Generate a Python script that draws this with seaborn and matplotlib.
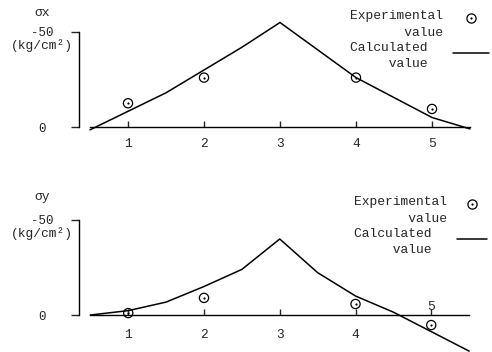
import matplotlib
matplotlib.use("Agg")
import matplotlib.pyplot as plt
from matplotlib.lines import Line2D
from matplotlib.legend_handler import HandlerTuple, HandlerLine2D
import seaborn as sns
import pandas as pd

# ---------------- data ----------------
# stresses in kg/cm^2 (compression negative, drawn upward)
calc_x_pos = [0.5, 1.5, 2.5, 3, 4, 5, 5.5]
sigma_x_calc = [1.5, -18, -42, -55, -26, -5, 1]
exp_x_pos = [1, 2, 4, 5]
sigma_x_exp = [-12.5, -26, -26, -9.5]

calc_y_pos = [0.5, 1, 1.5, 2, 2.5, 3, 3.5, 4, 4.5, 5.5]
sigma_y_calc = [0, -2.3, -6.8, -15, -24, -40, -22.3, -10, -1.5, 19]
exp_y_pos = [1, 2, 4, 5]
sigma_y_exp = [-1, -9, -5.8, 5.3]

x_ticks = [1, 2, 3, 4, 5]
x_tick_labels = ["1", "2", "3", "4", "5"]
y_ticks = [0, -50]
y_tick_labels = ["0", "-50"]
unit_label = "(kg/cm²)"
panel_labels = ["σx", "σy"]
legend_labels = ["Experimental\n       value", "Calculated  \n     value  "]

# ---------------- style ----------------
sns.set_style("white")
plt.rcParams["font.family"] = ["Liberation Mono", "DejaVu Sans Mono", "DejaVu Sans"]
plt.rcParams["font.size"] = 9.4

W, H = 492, 352
fig = plt.figure(figsize=(W / 100, H / 100), dpi=100)


def raised(base_cls, dy_pt, **kw):
    """Legend handler that lifts its key by dy_pt points."""
    class _Raised(base_cls):
        def create_artists(self, legend, orig_handle, xdescent, ydescent,
                           width, height, fontsize, trans):
            return super().create_artists(legend, orig_handle, xdescent,
                                          ydescent - 2 * dy_pt, width, height,
                                          fontsize, trans)
    return _Raised(**kw)


# pixel layout helpers (positions only)
def axes_rect(top_px, bottom_px):
    return [0, 1 - bottom_px / H, 1, (bottom_px - top_px) / H]

panels = [
    dict(rect=axes_rect(0, 160), zero_px=127, x0=52, dx=76,
         cx=calc_x_pos, cy=sigma_x_calc, ex=exp_x_pos, ey=sigma_x_exp,
         top=0, bottom=160, label=panel_labels[0], lab_y=13,
         leg_right=489, leg_top=10, hl=36, xpad=8.2, mk_up=4.3, ln_up=2.2),
    dict(rect=axes_rect(170, 352), zero_px=315, x0=52.5, dx=75.75,
         cx=calc_y_pos, cy=sigma_y_calc, ex=exp_y_pos, ey=sigma_y_exp,
         top=170, bottom=352, label=panel_labels[1], lab_y=197,
         leg_right=487, leg_top=196, hl=30, xpad=9.8, mk_up=4.3, ln_up=2.2),
]

scale = 1.9  # px per kg/cm^2
lw = 1.0

for i, p in enumerate(panels):
    ax = fig.add_axes(p["rect"])
    ax.set_facecolor("none")
    df_c = pd.DataFrame({"pos": p["cx"], "val": p["cy"]})
    df_e = pd.DataFrame({"pos": p["ex"], "val": p["ey"]})
    sns.lineplot(data=df_c, x="pos", y="val", ax=ax, color="black",
                 linewidth=1.1, sort=False, estimator=None)
    # experimental: circle with a centre dot
    sns.scatterplot(data=df_e, x="pos", y="val", ax=ax, marker="o", s=44,
                    facecolors="none", edgecolor="black", linewidth=0.9)
    sns.scatterplot(data=df_e, x="pos", y="val", ax=ax, marker="o", s=2.5,
                    color="black", linewidth=0)

    # map data to pixel layout
    ax.set_xlim(-p["x0"] / p["dx"], (W - p["x0"]) / p["dx"])
    ylo = (p["bottom"] - p["zero_px"]) / scale
    yhi = (p["top"] - p["zero_px"]) / scale
    ax.set_ylim(ylo, yhi)  # inverted: negative (compression) upward

    # spines
    ax.spines["top"].set_visible(False)
    ax.spines["right"].set_visible(False)
    ax.spines["left"].set_position(("data", (79 - p["x0"]) / p["dx"]))
    ax.spines["left"].set_bounds(y_ticks[1], y_ticks[0])
    ax.spines["bottom"].set_position(("data", 0))
    ax.spines["bottom"].set_bounds(0.5, 5.5)
    for s in ("left", "bottom"):
        ax.spines[s].set_linewidth(lw)
        ax.spines[s].set_color("black")

    # y ticks
    ax.set_yticks(y_ticks, labels=y_tick_labels)
    ax.tick_params(axis="y", direction="out", length=5.8, width=lw,
                   pad=21.0, labelsize=9, left=True)
    for t in ax.get_yticklabels():
        t.set_ha("center")

    # x ticks
    if i == 0:
        ax.set_xticks(x_ticks, labels=x_tick_labels)
    else:
        ax.set_xticks(x_ticks, labels=x_tick_labels[:4] + [""])
        ax.annotate(x_tick_labels[4], xy=(x_ticks[4], 0), xytext=(0, 3.8),
                    textcoords="offset points", ha="center", va="baseline",
                    fontsize=9.4)
    ax.tick_params(axis="x", direction="in", length=4.3, width=lw,
                   pad=p["xpad"], labelsize=9.4, bottom=True)

    ax.set_xlabel("")
    ax.set_ylabel(p["label"], rotation=0, ha="center", va="center", fontsize=9.4)
    ax.yaxis.set_label_coords(42 / W, (p["bottom"] - p["lab_y"]) / (p["bottom"] - p["top"]))

    # unit label below -50
    ax.annotate(unit_label, xy=(42 / W, y_ticks[1]), xycoords=("axes fraction", "data"),
                xytext=(0, -9.5), textcoords="offset points",
                ha="center", va="center", fontsize=9.4)

    # legend
    ring = Line2D([], [], marker="o", linestyle="", markerfacecolor="none",
                  markeredgecolor="black", markeredgewidth=0.9, markersize=6.6)
    dot = Line2D([], [], marker="o", linestyle="", color="black",
                 markeredgewidth=0, markersize=1.6)
    calc = Line2D([], [], color="black", linewidth=1.1)
    hl_em = p["hl"] / (9.4 * 100 / 72)
    leg = ax.legend([(ring, dot), calc], legend_labels, loc="upper right",
                    bbox_to_anchor=(p["leg_right"] / W,
                                    (p["bottom"] - p["leg_top"]) / (p["bottom"] - p["top"])),
                    handler_map={tuple: raised(HandlerTuple, p["mk_up"], ndivide=1, pad=0),
                                 calc: raised(HandlerLine2D, p["ln_up"])},
                    frameon=False, markerfirst=False, borderaxespad=0, borderpad=0,
                    labelspacing=0.25, handlelength=hl_em, handletextpad=0.75,
                    fontsize=9.4)
    for t in leg.get_texts():
        t.set_linespacing(1.5)

fig.savefig("out.png", dpi=100, facecolor="white")
